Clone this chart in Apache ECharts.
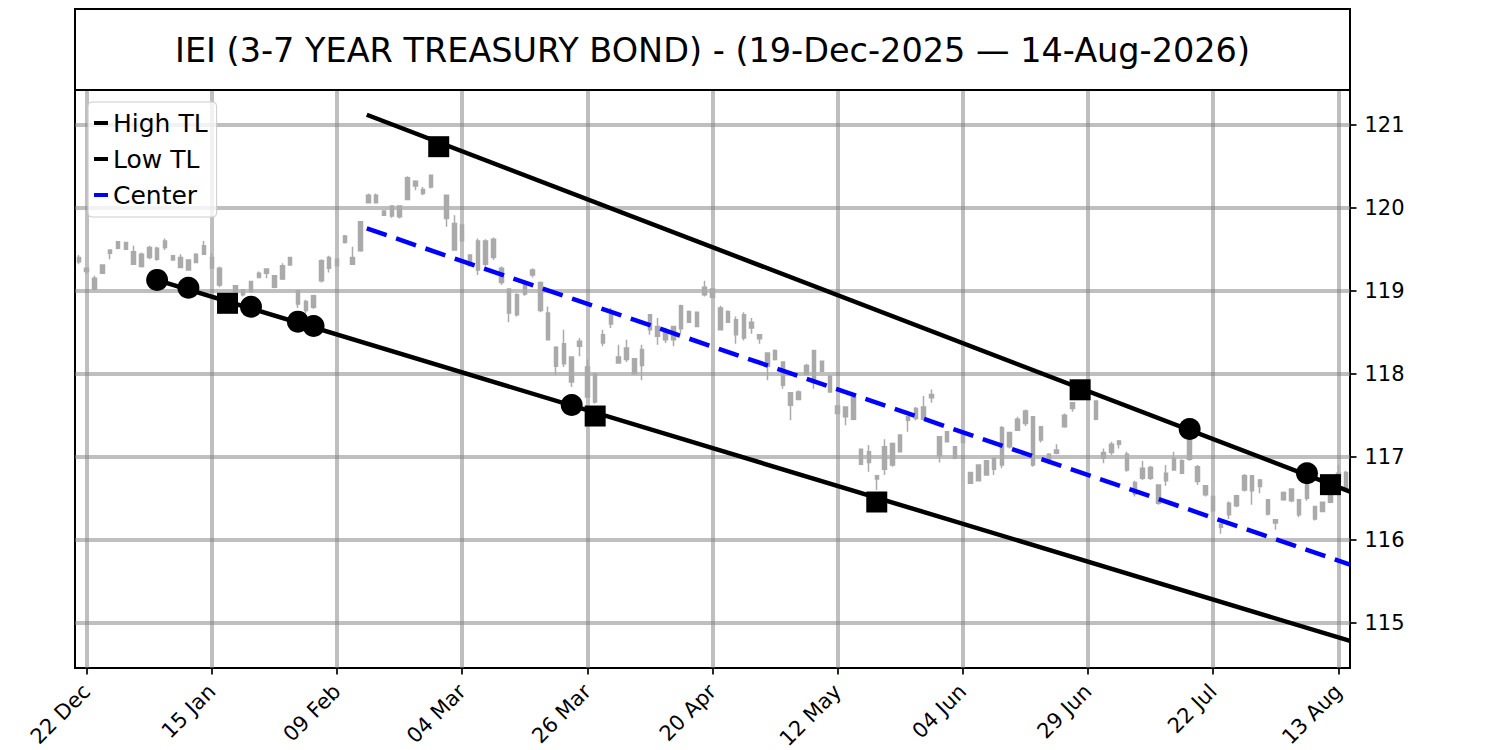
<!DOCTYPE html>
<html><head><meta charset="utf-8">
<script src="https://cdn.jsdelivr.net/npm/echarts@6.0.0/dist/echarts.min.js"></script>
<style>html,body{margin:0;padding:0;background:#fff}#chart{width:1500px;height:750px}</style>
</head><body><div id="chart"></div>
<script>
// ---- data ----
const titleText = 'IEI (3-7 YEAR TREASURY BOND) - (19-Dec-2025 \u2014 14-Aug-2026)';

const open = [
119.40,119.27,119.02,119.21,119.45,119.59,119.58,119.47,119.29,119.52,
119.38,119.60,119.42,119.40,119.25,119.34,119.54,119.40,119.27,118.84,
119.06,118.95,118.99,119.16,119.26,119.04,119.14,119.40,119.00,118.76,
118.80,119.12,119.27,119.30,119.66,119.32,119.48,120.06,120.15,119.91,
119.90,119.89,120.10,120.32,120.17,120.25,120.76,120.15,119.49,119.79,
119.30,119.25,119.32,119.62,119.27,119.02,118.71,118.96,119.25,119.10,
118.73,118.09,118.36,117.90,118.39,118.08,117.66,118.37,118.71,118.13,
118.31,118.00,118.10,118.71,118.57,118.41,118.41,118.54,118.75,118.57,
119.04,119.02,118.53,118.75,118.47,118.43,118.62,118.47,118.09,118.28,
118.14,117.62,117.69,117.99,118.28,118.15,117.97,117.61,117.48,117.72,
117.09,117.06,116.73,116.85,116.90,117.06,117.44,117.46,117.45,117.75,
117.01,117.30,116.98,117.29,116.68,116.71,116.78,116.85,116.90,117.12,
117.32,117.55,116.90,117.36,116.96,117.04,117.36,117.58,117.76,117.84,
117.67,116.98,117.05,117.19,117.03,116.55,116.74,116.87,116.44,116.71,
116.98,116.80,117.20,116.88,116.65,116.52,116.15,116.30,116.41,116.60,
116.77,116.72,116.48,116.20,116.48,116.61,116.30,116.66,116.25,116.34,
116.45,116.70,116.63];

const close = [
119.35,119.23,119.15,119.31,119.49,119.51,119.50,119.32,119.44,119.40,
119.51,119.52,119.37,119.28,119.37,119.44,119.44,119.27,119.07,118.88,
118.99,119.01,119.11,119.21,119.21,119.18,119.30,119.31,118.84,118.87,
118.94,119.36,119.40,119.38,119.58,119.40,119.83,120.15,120.06,119.96,
120.02,120.02,120.36,120.26,120.22,120.39,120.70,119.87,119.81,119.60,
119.43,119.60,119.60,119.40,119.10,118.73,118.95,119.10,119.19,118.76,
118.41,118.32,118.12,118.20,118.33,117.72,118.00,118.47,118.60,118.20,
118.17,118.18,118.29,118.53,118.45,118.52,118.57,118.82,118.62,118.74,
118.95,118.92,118.79,118.62,118.65,118.71,118.55,118.42,118.25,118.17,
117.86,117.77,117.78,118.10,117.92,118.03,117.78,117.52,117.60,117.45,
116.91,116.93,116.77,117.12,117.16,117.26,117.48,117.58,117.60,117.71,
117.24,117.18,117.12,117.17,116.81,116.90,116.95,116.98,117.35,117.29,
117.45,117.40,117.48,117.20,117.03,117.08,117.50,117.65,117.82,117.76,
117.45,117.05,117.15,117.15,116.84,116.69,116.86,116.74,116.66,116.80,
116.84,116.95,116.97,116.70,116.54,116.35,116.19,116.44,116.53,116.77,
116.59,116.64,116.31,116.24,116.57,116.47,116.48,116.50,116.40,116.45,
116.55,116.80,116.81];

const low = [
119.32,119.20,119.00,119.20,119.38,119.50,119.49,119.31,119.28,119.38,
119.36,119.49,119.36,119.27,119.24,119.33,119.43,119.26,119.04,118.82,
118.97,118.93,118.98,119.15,119.15,119.03,119.13,119.30,118.79,118.73,
118.78,119.10,119.22,119.29,119.57,119.31,119.47,120.05,120.05,119.90,
119.88,119.87,120.09,120.21,120.15,120.23,120.68,119.77,119.49,119.59,
119.29,119.19,119.29,119.37,119.07,118.62,118.69,118.94,119.16,118.74,
118.41,117.98,118.08,117.84,118.21,117.72,117.64,118.33,118.55,118.13,
118.14,117.99,117.92,118.47,118.35,118.37,118.33,118.49,118.61,118.56,
118.93,118.91,118.52,118.61,118.36,118.40,118.48,118.36,117.92,118.16,
117.82,117.44,117.68,117.98,117.82,118.02,117.77,117.51,117.38,117.44,
116.90,116.82,116.60,116.78,116.88,117.05,117.30,117.44,117.44,117.65,
116.93,117.17,116.97,117.16,116.67,116.70,116.77,116.78,116.86,117.10,
117.31,117.37,116.88,117.17,116.91,117.03,117.35,117.54,117.74,117.74,
117.44,116.92,117.02,117.10,116.82,116.52,116.72,116.72,116.42,116.65,
116.83,116.79,116.95,116.66,116.52,116.33,116.07,116.25,116.39,116.58,
116.42,116.56,116.29,116.12,116.47,116.45,116.27,116.47,116.23,116.33,
116.44,116.66,116.59];

const high = [
119.43,119.28,119.18,119.32,119.49,119.60,119.59,119.54,119.46,119.54,
119.53,119.63,119.42,119.44,119.38,119.45,119.60,119.45,119.29,118.90,
119.07,119.02,119.12,119.23,119.27,119.19,119.33,119.41,119.01,118.89,
118.95,119.38,119.42,119.39,119.67,119.53,119.83,120.17,120.17,119.97,
120.03,120.03,120.38,120.33,120.25,120.40,120.80,120.15,119.91,119.80,
119.44,119.63,119.62,119.64,119.29,119.02,118.97,119.11,119.27,119.11,
118.81,118.33,118.53,118.21,118.43,118.17,118.00,118.53,118.79,118.35,
118.41,118.19,118.35,118.72,118.67,118.55,118.57,118.83,118.76,118.75,
119.12,119.03,118.82,118.76,118.69,118.74,118.67,118.47,118.25,118.29,
118.14,117.78,117.80,118.12,118.28,118.16,117.98,117.62,117.60,117.73,
117.10,117.14,116.78,117.21,117.17,117.27,117.48,117.60,117.73,117.81,
117.24,117.31,117.13,117.30,116.82,116.91,116.96,116.99,117.37,117.30,
117.48,117.57,117.49,117.37,117.04,117.15,117.52,117.66,117.85,117.88,
117.68,117.10,117.18,117.20,117.06,116.71,116.95,116.89,116.66,116.90,
117.06,116.97,117.25,116.90,116.66,116.53,116.19,116.46,116.54,116.79,
116.77,116.73,116.49,116.24,116.58,116.62,116.49,116.68,116.41,116.46,
116.57,116.90,116.83];

const tickLabels = ['22 Dec','15 Jan','09 Feb','04 Mar','26 Mar','20 Apr','12 May','04 Jun','29 Jun','22 Jul','13 Aug'];
const tickIndex  = [1,17,33,49,65,81,97,113,129,145,161];
const priceTicks = [115,116,117,118,119,120,121];
const priceMin = 114.454, priceMax = 121.418;

const highTL   = [[36.8,121.12],[162.5,116.58]];
const lowTL    = [[9.9,119.13],[162.5,114.78]];
const centerTL = [[36.8,119.75],[162.5,115.70]];

const pivotCircles = [[10,119.13],[14,119.036],[22,118.807],[28,118.627],[30,118.575],[63,117.623],[142,117.334],[157,116.80]];
const pivotSquares = [[19,118.848],[66,117.49],[102,116.454],[46,120.735],[128,117.806],[160,116.663]];

// ---- chart ----
const FONT = 'DejaVu Sans';
const GRID_COLOR = 'rgba(128,128,128,0.5)';
const CANDLE = '#aaaaaa';
const n = open.length;
const cats = open.map((_, i) => i);
const candles = open.map((o, i) => [o, close[i], low[i], high[i]]);
const isTick = (idx) => tickIndex.indexOf(idx) >= 0;

const chart = echarts.init(document.getElementById('chart'), null, {renderer: 'svg', width: 1500, height: 750});
chart.setOption({
  animation: false,
  backgroundColor: '#ffffff',
  title: {
    text: titleText, left: 712.5, top: 30, textAlign: 'center', padding: 0,
    textStyle: {fontSize: 33.5, fontWeight: 'normal', fontFamily: FONT, color: '#000', lineHeight: 40}
  },
  graphic: [{
    type: 'rect', silent: true, z: 10,
    shape: {x: 75, y: 9, width: 1275, height: 81},
    style: {fill: 'none', stroke: '#000', lineWidth: 2}
  }],
  legend: {
    data: ['High TL', 'Low TL', 'Center'],
    orient: 'vertical', left: 88, top: 102,
    icon: 'rect', itemWidth: 14, itemHeight: 4, itemGap: 10,
    padding: [8, 9, 9, 6],
    backgroundColor: 'rgba(255,255,255,0.8)', borderColor: '#cccccc', borderWidth: 1, borderRadius: 4,
    selectedMode: false,
    textStyle: {fontSize: 25, fontFamily: FONT, color: '#000', lineHeight: 26}
  },
  grid: {left: 75, right: 150, top: 90, bottom: 82, show: true, borderColor: '#000', borderWidth: 2,
         containLabel: false, outerBoundsMode: 'none'},
  xAxis: [{
    type: 'category', data: cats, boundaryGap: true,
    axisLine: {show: true, onZero: false, lineStyle: {color: '#000', width: 2}},
    axisTick: {show: true, alignWithLabel: true, interval: isTick, length: 6.5, lineStyle: {color: '#000', width: 1.7}},
    axisLabel: {interval: isTick, rotate: 45, margin: 20, fontSize: 21, fontFamily: FONT, color: '#000',
                formatter: (v, idx) => { const k = tickIndex.indexOf(idx); return k >= 0 ? tickLabels[k] : ''; }},
    splitLine: {show: false}
  }, {
    type: 'value', min: -0.5, max: n - 0.5, show: false, splitLine: {show: false},
    axisLine: {show: false, onZero: false}
  }],
  yAxis: {
    type: 'value', position: 'right', min: priceMin, max: priceMax, splitNumber: 7,
    axisLine: {show: true, onZero: false, lineStyle: {color: '#000', width: 2}},
    axisTick: {show: true, length: 6.5, lineStyle: {color: '#000', width: 1.7}},
    axisLabel: {margin: 14.5, fontSize: 21, fontFamily: FONT, color: '#000', showMinLabel: false, showMaxLabel: false},
    splitLine: {show: false}
  },
  series: [{
    type: 'line', name: 'gridlines', xAxisIndex: 1, data: [], silent: true,
    markLine: {
      silent: true, symbol: ['none', 'none'], z: 1, animation: false,
      label: {show: false}, emphasis: {disabled: true},
      lineStyle: {color: GRID_COLOR, width: 4, type: 'solid'},
      data: tickIndex.map(v => ({xAxis: v})).concat(priceTicks.map(v => ({yAxis: v})))
    }
  }, {
    type: 'candlestick', name: 'IEI', xAxisIndex: 0, data: candles, barWidth: 4, z: 2, silent: true,
    itemStyle: {color: CANDLE, color0: CANDLE, borderColor: CANDLE, borderColor0: CANDLE, borderWidth: 1.5}
  }, {
    type: 'line', name: 'High TL', xAxisIndex: 1, data: highTL, symbol: 'none', color: '#000', z: 3,
    lineStyle: {color: '#000', width: 4.5}
  }, {
    type: 'line', name: 'Low TL', xAxisIndex: 1, data: lowTL, symbol: 'none', color: '#000', z: 3,
    lineStyle: {color: '#000', width: 4.5}
  }, {
    type: 'line', name: 'Center', xAxisIndex: 1, data: centerTL, symbol: 'none', color: '#0000ff', z: 3,
    lineStyle: {color: '#0000ff', width: 4.5, type: [21, 10]}
  }, {
    type: 'scatter', name: 'pivots-circle', xAxisIndex: 1, data: pivotCircles, symbol: 'circle', symbolSize: 22,
    itemStyle: {color: '#000', opacity: 1}, z: 4, silent: true
  }, {
    type: 'scatter', name: 'pivots-square', xAxisIndex: 1, data: pivotSquares, symbol: 'rect', symbolSize: 21,
    itemStyle: {color: '#000', opacity: 1}, z: 4, silent: true
  }]
});
</script>
</body></html>
